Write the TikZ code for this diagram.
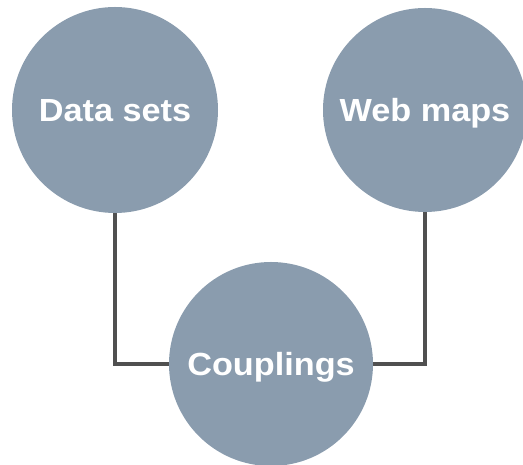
\documentclass[tikz,border=0pt]{standalone}
\usepackage{fontspec}
\setmainfont{Liberation Sans}
\newfontfamily\bubblefont{Liberation Sans}[FakeStretch=1.07]
\usetikzlibrary{backgrounds}
\definecolor{bubble}{HTML}{8A9CAE}
\definecolor{wire}{HTML}{505050}
\tikzset{
  bubble/.style={circle, fill=bubble, inner sep=0pt, minimum size=#1,
    text=white, font=\bubblefont\bfseries\fontsize{32pt}{36pt}\selectfont,
    text height=23pt, text depth=0pt},
  wire/.style={draw=wire, line width=4pt}
}
\begin{document}
\begin{tikzpicture}[x=1pt, y=1pt]
  \useasboundingbox (0,0) rectangle (523,465);
  \node[bubble=206pt] (ds) at (115,355) {Data sets};
  \node[bubble=204pt] (wm) at (425,355) {Web maps};
  \node[bubble=204pt] (cp) at (271,101) {Couplings};
  \begin{scope}[on background layer]
    \draw[wire] (ds) |- (cp);
    \draw[wire] (wm) |- (cp);
  \end{scope}
\end{tikzpicture}
\end{document}
